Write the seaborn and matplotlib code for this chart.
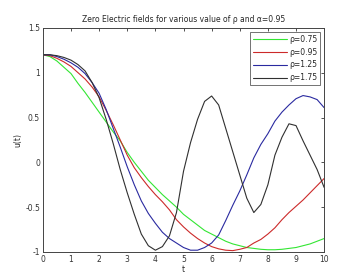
import numpy as np
import pandas as pd
import seaborn as sns
import matplotlib.pyplot as plt

# data (step 0.25 in t)
t = np.arange(0, 10.01, 0.25)

u_075 = [1.20, 1.18, 1.13, 1.06, 0.99, 0.88, 0.78, 0.67, 0.56, 0.45, 0.34, 0.24, 0.11,
         0.00, -0.10, -0.20, -0.28, -0.36, -0.43, -0.50, -0.58, -0.64, -0.70, -0.76, -0.80,
         -0.84, -0.88, -0.91, -0.93, -0.95, -0.96, -0.97, -0.975, -0.975, -0.97, -0.96,
         -0.95, -0.93, -0.91, -0.88, -0.85]
u_095 = [1.20, 1.19, 1.16, 1.12, 1.07, 1.00, 0.93, 0.84, 0.73, 0.58, 0.42, 0.25, 0.08,
         -0.06, -0.17, -0.27, -0.36, -0.44, -0.53, -0.64, -0.72, -0.79, -0.85, -0.90, -0.94,
         -0.965, -0.98, -0.985, -0.97, -0.95, -0.90, -0.86, -0.80, -0.73, -0.64, -0.56,
         -0.49, -0.42, -0.34, -0.26, -0.18]
u_125 = [1.20, 1.20, 1.18, 1.15, 1.11, 1.06, 0.99, 0.89, 0.77, 0.59, 0.38, 0.17, -0.05,
         -0.25, -0.43, -0.57, -0.68, -0.78, -0.85, -0.90, -0.95, -0.98, -0.98, -0.95, -0.90,
         -0.81, -0.65, -0.48, -0.32, -0.14, 0.05, 0.20, 0.32, 0.46, 0.56, 0.64, 0.71, 0.745,
         0.73, 0.70, 0.61]
u_175 = [1.20, 1.20, 1.19, 1.17, 1.14, 1.09, 1.02, 0.89, 0.72, 0.48, 0.21, -0.08, -0.34,
         -0.58, -0.80, -0.93, -0.98, -0.94, -0.82, -0.56, -0.10, 0.22, 0.48, 0.68, 0.74,
         0.64, 0.38, 0.12, -0.14, -0.40, -0.56, -0.47, -0.25, 0.08, 0.28, 0.43, 0.41, 0.24,
         0.08, -0.08, -0.28]

labels = ['\u03c1=0.75', '\u03c1=0.95', '\u03c1=1.25', '\u03c1=1.75']
colors = ['#33e633', '#cc2a2a', '#2a2aa0', '#303030']

df = pd.DataFrame({'t': np.tile(t, 4),
                   'u': np.concatenate([u_075, u_095, u_125, u_175]),
                   'rho': np.repeat(labels, len(t))})

sns.set_style('white')
plt.rcParams['font.family'] = ['DejaVu Sans']

fig = plt.figure(figsize=(3.43, 2.76), dpi=100)
ax = fig.add_axes([0.125, 0.087, 0.82, 0.812])
sns.lineplot(data=df, x='t', y='u', hue='rho', palette=colors, linewidth=0.8, ax=ax)

ax.set_xlim(0, 10)
ax.set_ylim(-1, 1.5)
ax.set_xticks(range(0, 11))
ax.set_yticks([-1, -0.5, 0, 0.5, 1, 1.5])
ax.set_yticklabels(['-1', '-0.5', '0', '0.5', '1', '1.5'])
ax.tick_params(direction='in', length=2.5, width=0.6, labelsize=5.5, colors='#333333',
               top=True, right=True, pad=2)
for s in ax.spines.values():
    s.set_linewidth(0.7)
    s.set_color('#444444')
ax.set_xlabel('t', fontsize=5.5, labelpad=1)
ax.set_ylabel('u(t)', fontsize=5.5, labelpad=2)
ax.set_title('Zero Electric fields for various value of \u03c1 and \u03b1=0.95', fontsize=5.5, pad=4)

leg = ax.legend(loc='upper right', fontsize=5.5, frameon=True, fancybox=False,
                edgecolor='#333333', handlelength=4.5, borderpad=0.4, labelspacing=0.5,
                handletextpad=0.2)
leg.get_frame().set_linewidth(0.6)

fig.savefig('out.png', dpi=100)
